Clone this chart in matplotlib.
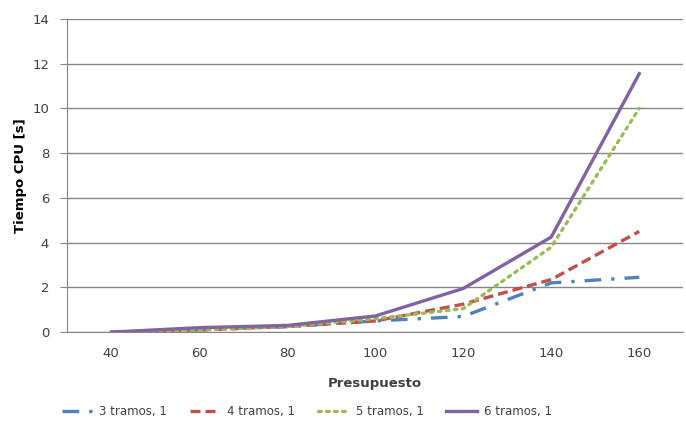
import numpy as np
import matplotlib.pyplot as plt

presupuesto = ['40', '60', '80', '100', '120', '140', '160']
tramos3 = [0.0, 0.1, 0.25, 0.5, 0.7, 2.2, 2.45]
tramos4 = [0.0, 0.1, 0.25, 0.5, 1.25, 2.35, 4.5]
tramos5 = [0.0, 0.1, 0.25, 0.6, 1.05, 3.8, 10.0]
tramos6 = [0.0, 0.2, 0.3, 0.72, 1.95, 4.25, 11.55]
labels = ['3 tramos, 1', '4 tramos, 1', '5 tramos, 1', '6 tramos, 1']

plt.rcParams['font.family'] = ['DejaVu Sans']
txt = '#404040'

fig = plt.figure(figsize=(6.86, 4.28), dpi=100)
ax = fig.add_axes([0.098, 0.224, 0.898, 0.732])

x = np.arange(len(presupuesto))
ax.plot(x, tramos3, color='#4F81BD', lw=2.4, dashes=(5, 3, 1, 3), label=labels[0])
ax.plot(x, tramos4, color='#C0504D', lw=2.4, dashes=(3, 1.5), label=labels[1])
ax.plot(x, tramos5, color='#9BBB59', lw=2.4, dashes=(0.8, 1.6), label=labels[2],
        dash_capstyle='round')
ax.plot(x, tramos6, color='#8064A2', lw=2.4, label=labels[3])

ax.set_xlim(-0.5, len(presupuesto) - 0.5)
ax.set_ylim(0, 14)
ax.set_yticks(np.arange(0, 15, 2))
ax.set_xticks(x)
ax.set_xticklabels(presupuesto)
ax.grid(axis='y', color='#868686', lw=1)
ax.set_axisbelow(True)
for s in ['top', 'right']:
    ax.spines[s].set_visible(False)
ax.spines['left'].set_color('#868686')
ax.spines['bottom'].set_color('#868686')
ax.tick_params(axis='y', length=5, color='#868686', labelsize=9.5, labelcolor=txt, pad=8)
ax.tick_params(axis='x', length=0, labelsize=9.5, labelcolor=txt, pad=11)

ax.set_xlabel('Presupuesto', fontsize=9.5, fontweight='bold', color=txt, labelpad=12)
ax.set_ylabel('Tiempo CPU [s]', fontsize=9.5, fontweight='bold', color='black', labelpad=4)

fig.legend(loc='lower center', bbox_to_anchor=(0.447, -0.002), ncol=4, frameon=False,
           fontsize=8.5, labelcolor=txt, handlelength=2.6, columnspacing=1.9,
           handletextpad=0.6)

fig.savefig('out.png', dpi=100)
